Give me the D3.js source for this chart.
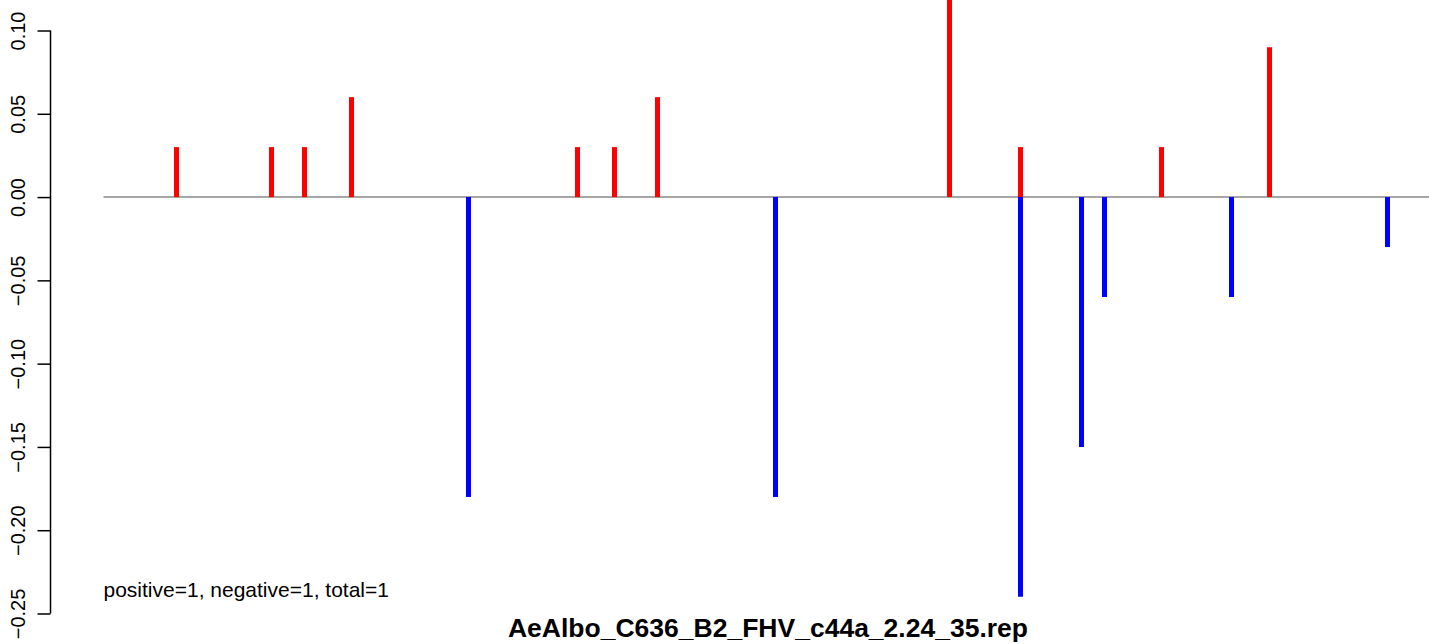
<!DOCTYPE html>
<html>
<head>
<meta charset="utf-8">
<script src="https://cdn.jsdelivr.net/npm/d3@7"></script>
<style>
  html, body { margin: 0; padding: 0; background: #fff; }
  svg { display: block; font-family: "Liberation Sans", Arial, Helvetica, sans-serif; }
</style>
</head>
<body>
<svg id="chart" width="1429" height="644"></svg>
<script>
// ---- data ----
const title = "AeAlbo_C636_B2_FHV_c44a_2.24_35.rep";
const note = "positive=1, negative=1, total=1";
const yTicks = [-0.25, -0.20, -0.15, -0.10, -0.05, 0.00, 0.05, 0.10];
const baselineFrom = 53;
const baselineTo = 1400;
const posPositions = [126, 221, 254, 301, 527, 564, 607, 899, 970, 1111, 1219];
const posValues    = [0.03, 0.03, 0.03, 0.06, 0.03, 0.03, 0.06, 0.12, 0.03, 0.03, 0.09];
const negPositions = [418, 725, 970, 1031, 1054, 1181, 1337];
const negValues    = [-0.18, -0.18, -0.24, -0.15, -0.06, -0.06, -0.03];

// ---- layout ----
const svg = d3.select("#chart");
const x = d3.scaleLinear().domain([0, 1379]).range([50.5, 1429.5]);
const y = d3.scaleLinear().domain([-0.25, 0.10]).range([613.5, 30.5]);

// baseline
svg.append("line")
  .attr("x1", x(baselineFrom)).attr("x2", x(baselineTo))
  .attr("y1", y(0)).attr("y2", y(0))
  .attr("stroke", "#a6a6a6").attr("stroke-width", 2);

// bars
const pos = posPositions.map((p, i) => ({p, v: posValues[i]}));
const neg = negPositions.map((p, i) => ({p, v: negValues[i]}));
svg.append("g").selectAll("line").data(pos).join("line")
  .attr("x1", d => x(d.p)).attr("x2", d => x(d.p))
  .attr("y1", y(0)).attr("y2", d => y(d.v))
  .attr("stroke", "#ff0000").attr("stroke-width", 5);
svg.append("g").selectAll("line").data(neg).join("line")
  .attr("x1", d => x(d.p)).attr("x2", d => x(d.p))
  .attr("y1", y(0)).attr("y2", d => y(d.v))
  .attr("stroke", "#0000ff").attr("stroke-width", 5);

// y axis
const fmt = v => (v < 0 ? "\u2212" : "") + Math.abs(v).toFixed(2);
const axis = svg.append("g")
  .attr("transform", `translate(${x(0)},0)`)
  .call(d3.axisLeft(y).tickValues(yTicks).tickSize(13).tickSizeOuter(0).tickFormat(fmt));
axis.select(".domain").attr("stroke", "#000").attr("stroke-width", 1.5)
  .attr("d", `M0,${y(-0.25)}V${y(0.10)}`);
axis.selectAll(".tick line").attr("stroke", "#000").attr("stroke-width", 1.5);
axis.selectAll(".tick text")
  .attr("x", null).attr("dy", null)
  .attr("transform", "translate(-26,0) rotate(-90)")
  .attr("text-anchor", "middle")
  .attr("fill", "#000")
  .style("font-size", "20px")
  .style("font-family", "Liberation Sans, Arial, sans-serif");

// annotation
svg.append("text")
  .attr("x", x(baselineFrom)).attr("y", 597)
  .style("font-size", "21px")
  .attr("fill", "#000")
  .text(note);

// title
svg.append("text")
  .attr("x", 768).attr("y", 637)
  .attr("text-anchor", "middle")
  .style("font-size", "26.5px").style("font-weight", "bold")
  .attr("fill", "#000")
  .text(title);
</script>
</body>
</html>
